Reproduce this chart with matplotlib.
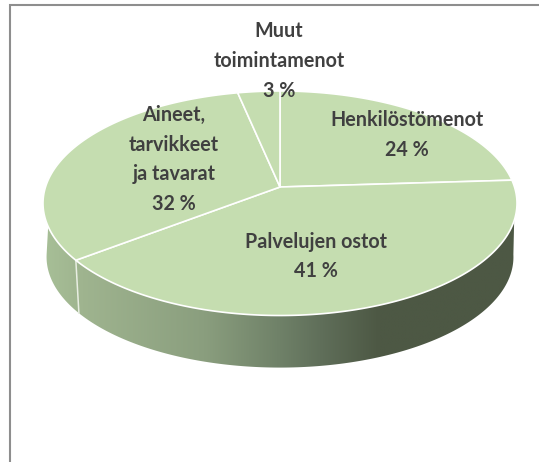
import numpy as np
from matplotlib import pyplot as plt
from matplotlib.colors import LinearSegmentedColormap
from matplotlib.patches import Polygon

# Shares, clockwise from the top of the pie. The labels show them rounded.
labels = ["Henkilöstömenot", "Palvelujen ostot", "Aineet,\ntarvikkeet\nja tavarat", "Muut\ntoimintamenot"]
shares = [24.0, 40.6, 32.1, 3.3]

TEXT_COLOR = "#404040"
TOP_COLOR = "#C5DDB0"
FRAME_COLOR = "#8E8E8E"
# Side gradient stops, left to right.
side_stops = [(0.0, "#A7BF97"), (0.08, "#9FB48F"), (0.34, "#8A9E7E"), (0.5, "#6F8168"), (0.585, "#606F5A"),
              (0.71, "#4D5844"), (1.0, "#4D5844")]

# Where the labels sit (centre x, centre y of the whole block), in pixels.
label_pos = [(407, 135), (316, 256.5), (174, 159.5), (279, 61)]

# Perspective of the pie disc.
CX, CY = 280, 187
RX, RY = 234.5, 109.9
K = 0.1448
DEPTH = 54
BOTTOM_SCALE = 0.985


def disc(theta: np.ndarray, scale: float = 1.0, drop: float = 0.0) -> np.ndarray:
    """
    Project an angle on the pie (clockwise from the top, degrees) to the image.
    :param theta: The angles.
    :param scale: Shrink of the disc.
    :param drop: Move the disc down by this many pixels.
    :return: The x and y pixel positions.
    """
    rad = np.radians(theta)
    u, v = np.sin(rad), np.cos(rad)
    w = 1 + K * v
    return np.column_stack([CX + scale * RX * u / w, CY + drop - scale * RY * v / w])


fig = plt.figure(figsize=(5.39, 4.62), dpi=100)
ax = fig.add_axes([0, 0, 1, 1])
ax.set_xlim(0, 539)
ax.set_ylim(462, 0)
ax.axis("off")

# The frame is cut off at the top right and bottom.
ax.plot([10, 10, 539], [462, 5, 5], color=FRAME_COLOR, linewidth=1.5, solid_joinstyle="miter")

# Side of the pie with a horizontal gradient, clipped to the side shape.
upper = disc(np.linspace(107, 250, 200))
lower = disc(np.linspace(263, 97, 200), BOTTOM_SCALE, DEPTH)
side = Polygon(np.vstack([upper, lower]), closed=True, facecolor="none", edgecolor="none")
ax.add_patch(side)
cmap = LinearSegmentedColormap.from_list("side", side_stops)
image = ax.imshow(np.linspace(0, 1, 256).reshape(1, -1), cmap=cmap, aspect="auto", extent=(44, 516, 380, 200),
                  interpolation="bilinear", zorder=2)
image.set_clip_path(side)
ax.set_xlim(0, 539)
ax.set_ylim(462, 0)

# Top of the pie, one slice at a time.
edges = np.cumsum([0] + shares) / sum(shares) * 360
for start, end in zip(edges[:-1], edges[1:]):
    rim = disc(np.linspace(start, end, 200))
    points = np.vstack([[CX, CY], rim])
    ax.add_patch(Polygon(points, closed=True, facecolor=TOP_COLOR, edgecolor="white", linewidth=1.2, zorder=3))

# Seam on the side between slices.
seam = np.vstack([disc(np.array([edges[2]])), disc(np.array([edges[2]]), BOTTOM_SCALE, DEPTH)])
ax.plot(seam[:, 0], seam[:, 1], color="#E8EEE2", linewidth=1.1, zorder=2.5)

for label, share, (x, y) in zip(labels, shares, label_pos):
    ax.text(x, y, f"{label}\n{round(share)} %", ha="center", va="center", family="Lato", fontweight="bold",
            fontsize=14.2, color=TEXT_COLOR, linespacing=1.6, zorder=4)

fig.savefig("out.png", dpi=100)
plt.close(fig)
